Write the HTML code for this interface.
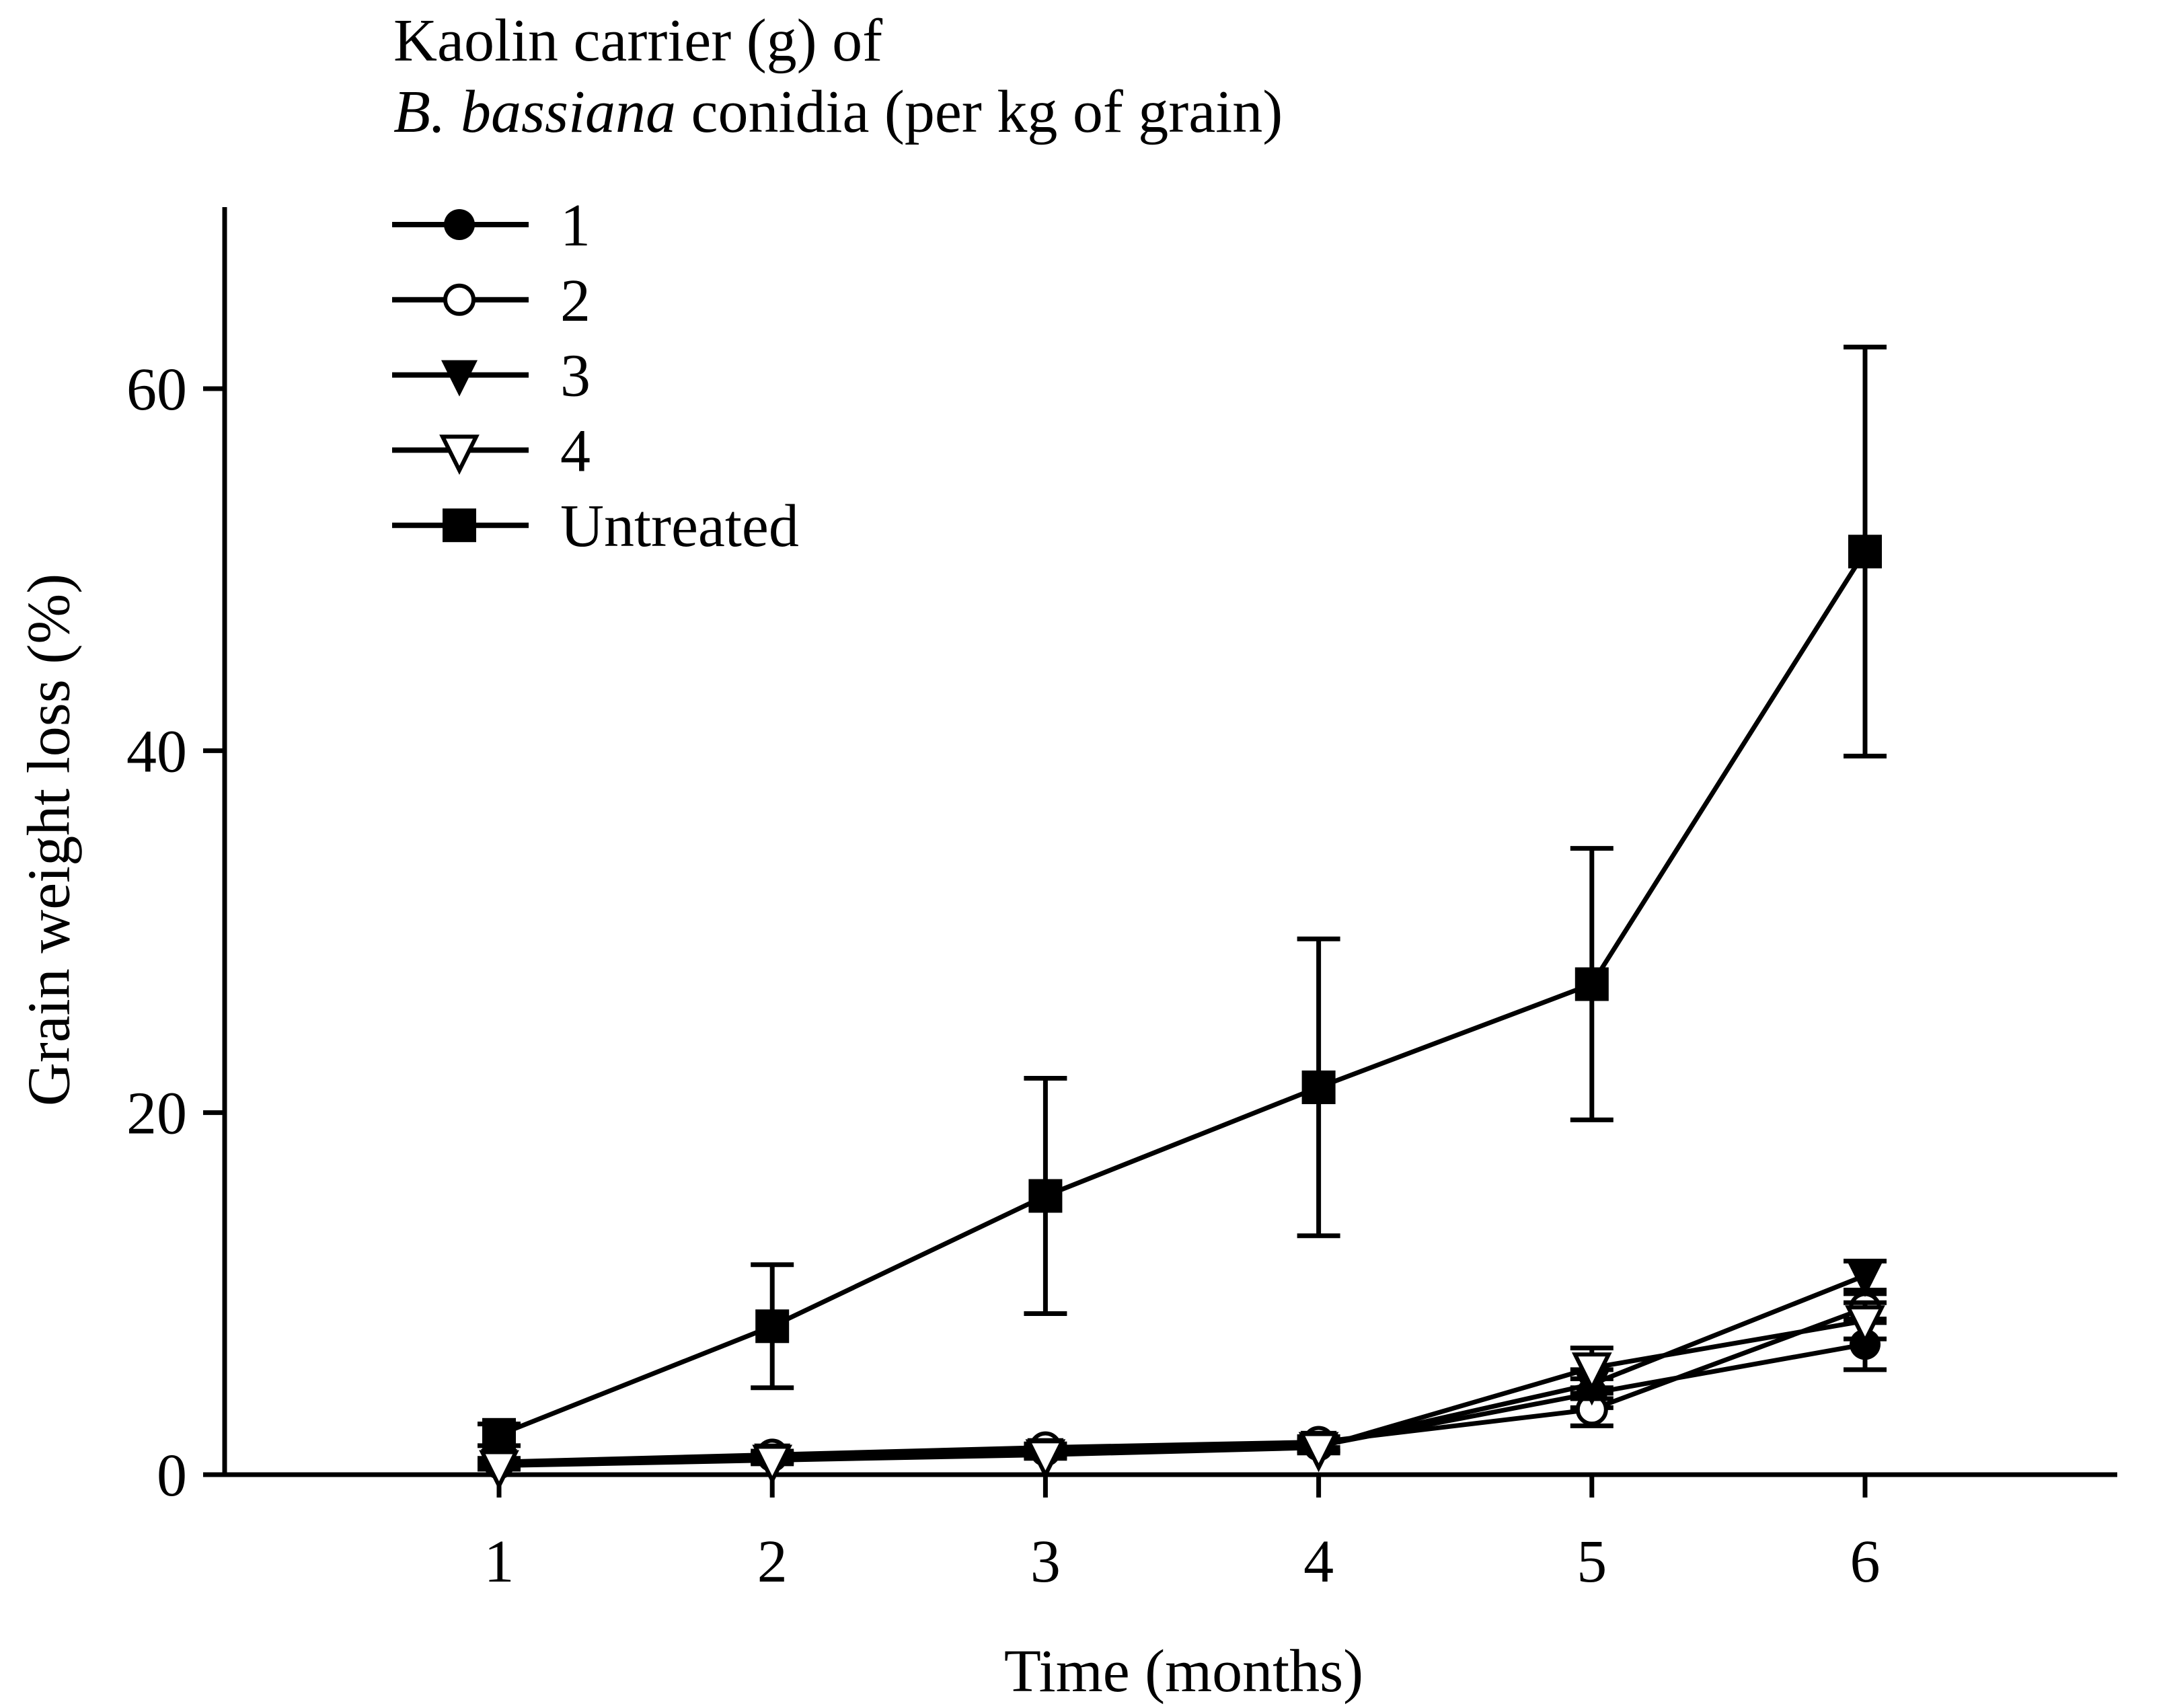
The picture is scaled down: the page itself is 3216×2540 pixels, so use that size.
<!DOCTYPE html>
<html><head><meta charset="utf-8"><style>
html,body{margin:0;padding:0;background:#fff;}
svg{display:block;font-family:"Liberation Serif",serif;}
</style></head><body>
<svg id="c" width="3216" height="2540" viewBox="0 0 3216 2540" xmlns="http://www.w3.org/2000/svg">
<text x="585" y="90" font-size="90">Kaolin carrier (g) of</text>
<text x="585" y="196" font-size="90"><tspan font-style="italic">B. bassiana</tspan> conidia (per kg of grain)</text>
<text transform="translate(82,1249) rotate(-90)" text-anchor="middle" dominant-baseline="middle" font-size="90">Grain weight loss (%)</text>
<text x="1760" y="2515" text-anchor="middle" font-size="90">Time (months)</text>
<g id="axes"></g><g id="plot"></g><g id="legend"></g>
</svg>
<script>
const months=[1,2,3,4,5,6];
const yTicks=[0,20,40,60];
const seriesNames=["1","2","3","4","Untreated"];
const s1=[0.6,1.0,1.3,1.6,4.5,7.2];
const s2=[0.7,1.1,1.5,1.8,3.6,9.2];
const s3=[0.6,0.9,1.2,1.6,5.0,11.0];
const s4=[0.5,0.8,1.1,1.5,5.9,8.5];
const s5=[2.2,8.2,15.4,21.4,27.1,51.0];
const e1=[0.2,0.2,0.2,0.3,0.8,1.4];
const e2=[0.2,0.2,0.2,0.3,0.9,0.8];
const e3=[0.2,0.2,0.2,0.3,0.8,0.8];
const e4=[0.2,0.2,0.2,0.3,1.1,1.0];
const e5=[0.6,3.4,6.5,8.2,7.5,11.3];
const NS="http://www.w3.org/2000/svg";
const X=m=>742+(m-1)*406.2;
const Y=v=>2193-v*(2193-578)/60;
function mk(p,t,a){const e=document.createElementNS(NS,t);for(const k in a)e.setAttribute(k,a[k]);p.appendChild(e);return e;}
const ax=document.getElementById('axes'),pl=document.getElementById('plot'),lg=document.getElementById('legend');
let e;
e=mk(ax,'line',{x1:334,y1:308,x2:334,y2:2193,stroke:'#000','stroke-width':7});


e=mk(ax,'line',{x1:334,y1:2193,x2:3148,y2:2193,stroke:'#000','stroke-width':7});


yTicks.forEach(v=>{
 e=mk(ax,'line',{x1:302,y1:Y(v),x2:334,y2:Y(v),stroke:'#000','stroke-width':7});
 
 
 e=mk(ax,'text',{x:278,y:Y(v)+31,'text-anchor':'end','font-size':90});e.textContent=v;
 
 
});
months.forEach(m=>{
 e=mk(ax,'line',{x1:X(m),y1:2193,x2:X(m),y2:2227,stroke:'#000','stroke-width':7});
 
 
 e=mk(ax,'text',{x:X(m),y:2352,'text-anchor':'middle','font-size':90});e.textContent=m;
 
 
});
function marker(p,kind,x,y){
 let r;
 if(kind==0)r=mk(p,'circle',{cx:x,cy:y,r:23,fill:'#000'});
 else if(kind==1)r=mk(p,'circle',{cx:x,cy:y,r:21,fill:'#fff',stroke:'#000','stroke-width':6});
 else if(kind==2)r=mk(p,'polygon',{points:`${x-27},${y-22} ${x+27},${y-22} ${x},${y+32}`,fill:'#000'});
 else if(kind==3)r=mk(p,'polygon',{points:`${x-25},${y-20} ${x+25},${y-20} ${x},${y+30}`,fill:'#fff',stroke:'#000','stroke-width':6});
 else r=mk(p,'rect',{x:x-25,y:y-25,width:50,height:50,fill:'#000'});
 return r;
}
const data=[s1,s2,s3,s4,s5],errs=[e1,e2,e3,e4,e5];
data.forEach((s,i)=>{
 const g=mk(pl,'g',{});
 
 
 months.forEach((m,j)=>{
  const x=X(m),hi=Y(s[j]+errs[i][j]),lo=Y(s[j]-errs[i][j]);
  e=mk(g,'path',{d:`M${x},${hi}V${lo}M${x-32},${hi}h64M${x-32},${lo}h64`,stroke:'#000','stroke-width':7,fill:'none'});
  
  
 });
 e=mk(g,'polyline',{points:months.map((m,j)=>X(m)+','+Y(s[j])).join(' '),fill:'none',stroke:'#000','stroke-width':7});
 
 
 months.forEach((m,j)=>{
  e=marker(g,i,X(m),Y(s[j]));
  
  
 });
});
seriesNames.forEach((n,i)=>{
 const y=334+i*111.8;
 const g=mk(lg,'g',{});
 
 
 mk(g,'line',{x1:583,y1:y,x2:786,y2:y,stroke:'#000','stroke-width':8});
 marker(g,i,683,y);
 e=mk(g,'text',{x:833,y:y+31,'font-size':90});e.textContent=n;
});
</script>
</body></html>
